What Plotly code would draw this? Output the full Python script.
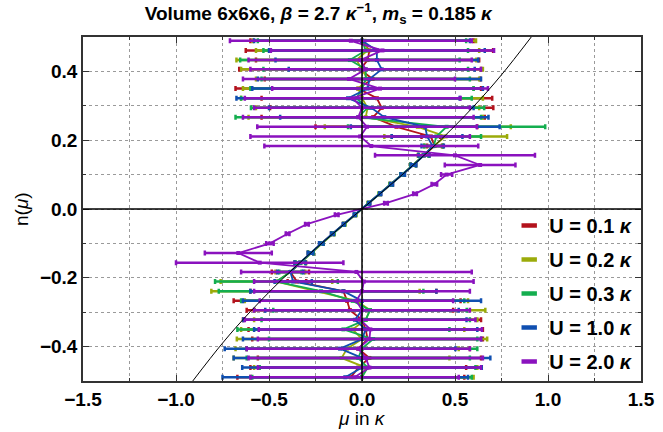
import plotly.graph_objects as go

# n levels (shared by all series), ascending
n_levels = [-0.489, -0.461, -0.433, -0.406, -0.378, -0.350, -0.322, -0.294, -0.267,
            -0.239, -0.211, -0.183, -0.156, -0.128, -0.100, -0.072, -0.044, -0.017,
            0.017, 0.044, 0.072, 0.100, 0.128, 0.156, 0.183, 0.211, 0.239, 0.267,
            0.294, 0.322, 0.350, 0.378, 0.406, 0.433, 0.461, 0.489]

# mu estimates and errors per series (same order as n_levels)
mu_u01 = [-0.06, -0.02, 0.04, -0.02, 0.03, 0.02, 0.00, -0.065, -0.08,
          -0.10, -0.35, -0.385, -0.332, -0.276, -0.218, -0.158, -0.097, -0.038,
          0.038, 0.097, 0.158, 0.218, 0.276, 0.332, 0.39, 0.37, 0.185, 0.06,
          0.106, 0.08, -0.02, 0.057, -0.01, 0.03, 0.04, 0.00]
err_u01 = [0.61, 0.58, 0.60, 0.60, 0.62, 0.63, 0.64, 0.555, 0.61,
           0.50, 0.05, 0.10, 0.03, 0.015, 0.012, 0.008, 0.005, 0.005,
           0.005, 0.005, 0.008, 0.012, 0.015, 0.03, 0.04, 0.05, 0.435, 0.60,
           0.60, 0.62, 0.66, 0.58, 0.65, 0.60, 0.665, 0.60]

mu_u02 = [0.00, 0.02, -0.11, -0.08, 0.00, -0.05, 0.02, 0.043, -0.03,
          -0.25, -0.46, -0.385, -0.330, -0.274, -0.216, -0.156, -0.095, -0.036,
          0.036, 0.095, 0.156, 0.216, 0.274, 0.330, 0.385, 0.45, 0.30, 0.02,
          0.03, 0.00, -0.02, 0.03, 0.00, -0.03, 0.03, 0.013]
err_u02 = [0.60, 0.60, 0.58, 0.60, 0.673, 0.60, 0.60, 0.62, 0.60,
           0.56, 0.30, 0.08, 0.03, 0.015, 0.01, 0.008, 0.005, 0.005,
           0.005, 0.005, 0.008, 0.01, 0.015, 0.03, 0.05, 0.33, 0.50, 0.63,
           0.60, 0.65, 0.62, 0.60, 0.65, 0.645, 0.60, 0.60]

mu_u03 = [0.00, 0.03, -0.02, 0.00, 0.06, -0.10, 0.02, 0.043, -0.05,
          -0.22, -0.46, -0.385, -0.331, -0.275, -0.217, -0.157, -0.096, -0.037,
          0.037, 0.096, 0.157, 0.217, 0.275, 0.331, 0.385, 0.40, 0.455, -0.02,
          0.03, -0.03, 0.00, 0.02, 0.02, -0.065, 0.02, 0.00]
err_u03 = [0.59, 0.58, 0.60, 0.62, 0.56, 0.57, 0.56, 0.52, 0.60,
           0.55, 0.33, 0.06, 0.025, 0.015, 0.01, 0.008, 0.005, 0.005,
           0.005, 0.005, 0.008, 0.01, 0.015, 0.025, 0.05, 0.24, 0.53, 0.66,
           0.627, 0.62, 0.60, 0.56, 0.55, 0.59, 0.55, 0.56]

mu_u10 = [-0.09, 0.00, 0.00, -0.118, 0.00, 0.02, -0.038, 0.00, 0.00,
          -0.10, -0.37, -0.385, -0.333, -0.277, -0.219, -0.159, -0.098, -0.039,
          0.039, 0.098, 0.159, 0.219, 0.277, 0.333, 0.38, 0.35, 0.34, 0.12,
          0.05, -0.075, 0.03, 0.04, 0.106, 0.08, 0.08, 0.00]
err_u10 = [0.66, 0.644, 0.69, 0.62, 0.64, 0.60, 0.60, 0.52, 0.64,
           0.50, 0.10, 0.07, 0.03, 0.015, 0.012, 0.008, 0.005, 0.005,
           0.005, 0.005, 0.008, 0.012, 0.015, 0.03, 0.06, 0.19, 0.40, 0.56,
           0.55, 0.60, 0.62, 0.60, 0.50, 0.545, 0.58, 0.58]

mu_u20 = [-0.04, 0.04, 0.02, -0.02, 0.04, 0.045, -0.01, 0.00, -0.03,
          0.00, 0.01, -0.03, -0.55, -0.665, -0.495, -0.40, -0.296, -0.136,
          0.129, 0.285, 0.389, 0.455, 0.635, 0.50, 0.05, -0.01, 0.027, -0.02,
          0.00, -0.05, 0.097, -0.07, 0.02, -0.01, 0.11, -0.06]
err_u20 = [0.56, 0.60, 0.63, 0.60, 0.60, 0.60, 0.62, 0.58, 0.52,
           0.58, 0.59, 0.62, 0.45, 0.18, 0.02, 0.01, 0.01, 0.01,
           0.01, 0.01, 0.015, 0.03, 0.19, 0.43, 0.575, 0.59, 0.59, 0.62,
           0.58, 0.58, 0.58, 0.57, 0.62, 0.60, 0.60, 0.65]

# reference curve
ref_mu = [-0.91, -0.75, -0.6, -0.4, -0.2, 0.0, 0.2, 0.4, 0.6, 0.75, 0.91]
ref_n = [-0.5, -0.39, -0.298, -0.189, -0.092, 0.0, 0.092, 0.189, 0.298, 0.39, 0.5]

labels = ["U = 0.1", "U = 0.2", "U = 0.3", "U = 1.0", "U = 2.0"]
colors = ["#b3121c", "#9bab0a", "#14ae4f", "#0f4fb0", "#8a12be"]
mus = [mu_u01, mu_u02, mu_u03, mu_u10, mu_u20]
errs = [err_u01, err_u02, err_u03, err_u10, err_u20]

FONT = "Liberation Sans, Arial, sans-serif"

fig = go.Figure()
for i in range(len(labels)):
    fig.add_trace(go.Scatter(
        x=mus[i], y=n_levels,
        mode="lines+markers",
        showlegend=False,
        line=dict(color=colors[i], width=1.8),
        marker=dict(color=colors[i], size=4, symbol="square"),
        error_x=dict(type="data", array=errs[i], color=colors[i],
                     thickness=2.5, width=2.5),
    ))

fig.add_trace(go.Scatter(
    x=ref_mu, y=ref_n, mode="lines", line=dict(color="black", width=1, shape="spline"),
    showlegend=False, hoverinfo="skip",
))

# legend entries: short thick bar like the reference's glyphs
for i in range(len(labels)):
    fig.add_trace(go.Scatter(
        x=[None], y=[None], mode="markers",
        name="<b>" + labels[i] + " <i>κ</i></b>",
        legendgroup=str(i),
        marker=dict(symbol="line-ew", size=11, color=colors[i],
                    line=dict(color=colors[i], width=4.5)),
    ))

grid = dict(showgrid=True, gridcolor="#9a9a9a", gridwidth=1, griddash="3px,3px")
fig.update_xaxes(
    range=[-1.5, 1.5], dtick=0.5, tick0=0, ticks="inside", ticklen=6,
    tickcolor="#333", showline=True, mirror="ticks", linecolor="#333", linewidth=1.5,
    zeroline=False, tickformat=".1f", automargin=False,
    tickfont=dict(family=FONT, size=19, color="black", weight="bold"),
    minor=dict(dtick=0.25, ticks="inside", ticklen=3, tickcolor="#333", **grid),
    **grid,
)
fig.update_yaxes(
    range=[-0.5, 0.5], dtick=0.2, tick0=0, ticks="inside", ticklen=6,
    tickcolor="#333", showline=True, mirror="ticks", linecolor="#333", linewidth=1.5,
    zeroline=False, tickformat=".1f", automargin=False,
    tickfont=dict(family=FONT, size=19, color="black", weight="bold"),
    minor=dict(dtick=0.1, ticks="inside", ticklen=3, tickcolor="#333", **grid),
    **grid,
)

# axes through the origin, drawn above the data
fig.add_shape(type="line", xref="x", yref="paper", x0=0, x1=0, y0=0, y1=1,
              line=dict(color="black", width=1.5), layer="above")
fig.add_shape(type="line", xref="paper", yref="y", x0=0, x1=1, y0=0, y1=0,
              line=dict(color="black", width=1.5), layer="above")

# axis titles placed like the reference
fig.add_annotation(text="<i>μ</i> in <i>κ</i>", xref="x", yref="paper", x=0, y=0,
                   yshift=-37, showarrow=False, xanchor="center", yanchor="middle",
                   font=dict(family=FONT, size=19, color="black"))
fig.add_annotation(text="n(<i>μ</i>)", xref="paper", yref="y", x=0, y=0,
                   xshift=-62, showarrow=False, textangle=-90,
                   xanchor="center", yanchor="middle",
                   font=dict(family=FONT, size=19, color="black"))

fig.update_layout(
    width=663, height=432,
    margin=dict(l=83, r=22, t=37, b=51, autoexpand=False),
    paper_bgcolor="white", plot_bgcolor="white",
    title=dict(text="<b>Volume 6x6x6, <i>β</i> = 2.7 <i>κ</i><sup>−1</sup>, "
                    "<i>m</i><sub>s</sub> = 0.185 <i>κ</i></b>",
               x=0.48, xanchor="center", y=0.985, yanchor="top",
               font=dict(family=FONT, size=19, color="black")),
    legend=dict(x=0.995, xanchor="right", y=0.0, yanchor="bottom",
                bgcolor="rgba(0,0,0,0)", tracegroupgap=5,
                font=dict(family=FONT, size=20, color="black")),
    showlegend=True,
)

fig.write_html("out.html", config={"displayModeBar": False},
               post_script="document.body.style.margin='0';document.body.style.padding='0';")
